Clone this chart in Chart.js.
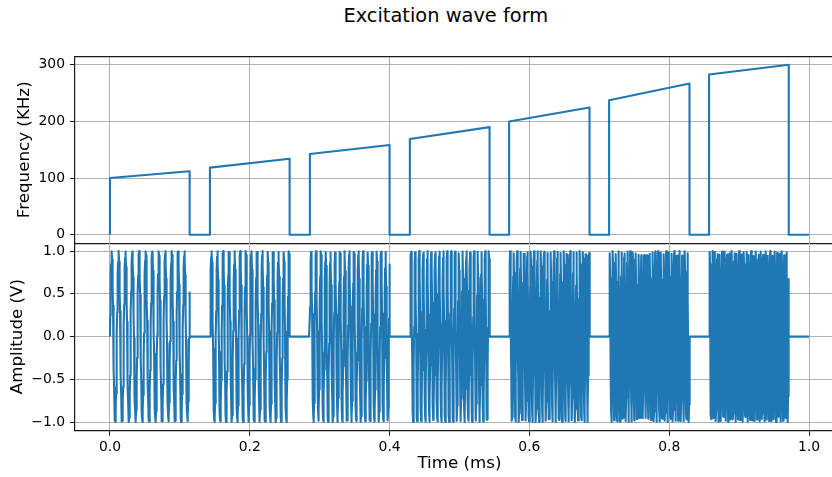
<!DOCTYPE html>
<html>
<head>
<meta charset="utf-8">
<script src="https://cdn.jsdelivr.net/npm/chart.js@4.4.1/dist/chart.umd.min.js"></script>
<style>
  html, body { margin: 0; padding: 0; background: #fff; overflow: hidden; }
  #wrap { position: relative; width: 832px; height: 477px; overflow: hidden; }
  #wrap canvas { position: absolute; left: 0; top: 0; }
  #titre { position: absolute; top: 3.8px; left: 0; width: 891.6px; text-align: center;
           font-family: 'DejaVu Sans', sans-serif; font-size: 19.4px; line-height: 24px; color: #000; }
</style>
</head>
<body>
<div id="wrap">
  <div id="titre">Excitation wave form</div>
  <canvas id="chartFrequence" width="844" height="477"></canvas>
  <canvas id="chartAmplitude" width="844" height="477"></canvas>
</div>
<script>
// Salves de chirp (temps en ms, fréquence en kHz)
const debutsSalve = [0.000, 0.143, 0.286, 0.429, 0.571, 0.714, 0.857];
const finsSalve   = [0.114, 0.257, 0.400, 0.543, 0.686, 0.829, 0.971];
const freqDebut   = [100, 118.5, 142.5, 169, 200, 237.5, 283];
const freqFin     = [112, 134, 158.5, 190, 224.5, 267, 300];
const finSignal   = 1.0;
const pasEchantillon = 0.0004;

const ticksTemps = [0, 0.2, 0.4, 0.6, 0.8, 1.0];
const ticksFreq  = [0, 100, 200, 300];
const ticksAmpl  = [-1, -0.5, 0, 0.5, 1];

const bleu = '#1f77b4';
const couleurGrille = '#b0b0b0';
const couleurAxe = '#1a1a1a';

Chart.defaults.font.family = "'DejaVu Sans', sans-serif";
Chart.defaults.color = '#000';

// Courbe de fréquence : marches construites depuis les salves
const pointsFreq = [];
debutsSalve.forEach((d, i) => {
  pointsFreq.push({ x: d, y: 0 }, { x: d, y: freqDebut[i] },
                  { x: finsSalve[i], y: freqFin[i] }, { x: finsSalve[i], y: 0 });
});
pointsFreq.push({ x: finSignal, y: 0 });

// Signal d'excitation : sinus dont la phase suit la fréquence de chaque salve
const pointsAmpl = [];
const nb = Math.round(finSignal / pasEchantillon);
let phase = 0, salvePrec = -1;
for (let k = 0; k <= nb; k++) {
  const t = k * pasEchantillon;
  const i = debutsSalve.findIndex((d, j) => t >= d && t <= finsSalve[j]);
  if (i < 0) { pointsAmpl.push({ x: t, y: 0 }); salvePrec = -1; continue; }
  if (i !== salvePrec) { phase = 0; salvePrec = i; }
  else {
    const f = freqDebut[i] + (freqFin[i] - freqDebut[i]) * (t - debutsSalve[i]) / (finsSalve[i] - debutsSalve[i]);
    phase += f * pasEchantillon;
  }
  pointsAmpl.push({ x: t, y: Math.sin(2 * Math.PI * phase) });
}

const poserTicks = (valeurs) => (axe) => { axe.ticks = valeurs.map(v => ({ value: v })); };
const bordure = { display: true, color: couleurAxe, width: 1.2 };
const policeTicks = { size: 13.9 };
const policeTitre = { size: 16.7 };
// l'axe du temps déborde à droite : le canvas est plus large que la figure rognée
const tMin = -0.05, tMax = 1.05;

const optionsBase = {
  responsive: false,
  animation: false,
  devicePixelRatio: 1,
  plugins: { legend: { display: false }, tooltip: { enabled: false } },
  elements: { point: { radius: 0 }, line: { tension: 0, borderJoinStyle: 'round' } }
};

new Chart(document.getElementById('chartFrequence'), {
  type: 'line',
  data: {
    datasets: [{ data: pointsFreq, borderColor: bleu, borderWidth: 2.1, fill: false }]
  },
  options: {
    ...optionsBase,
    layout: { padding: { left: 15, top: 56.3, right: 0, bottom: 233.8 } },
    scales: {
      x: {
        type: 'linear', position: 'bottom', min: tMin, max: tMax,
        afterBuildTicks: poserTicks(ticksTemps),
        grid: { color: couleurGrille, lineWidth: 1, drawTicks: false },
        border: bordure,
        ticks: { display: false, includeBounds: false }
      },
      xHaut: {
        type: 'linear', position: 'top', min: tMin, max: tMax,
        afterBuildTicks: poserTicks(ticksTemps),
        grid: { display: false, drawTicks: false },
        border: bordure,
        ticks: { display: false, includeBounds: false }
      },
      y: {
        type: 'linear', min: -15, max: 315,
        afterBuildTicks: poserTicks(ticksFreq),
        afterFit: (axe) => { axe.width = 60; },
        grid: { color: couleurGrille, lineWidth: 1, tickColor: couleurAxe, tickLength: 5 },
        border: bordure,
        ticks: { padding: 5, font: policeTicks, callback: v => String(v) },
        title: { display: true, text: 'Frequency (KHz)', font: policeTitre, padding: 0 }
      }
    }
  }
});

new Chart(document.getElementById('chartAmplitude'), {
  type: 'line',
  data: {
    datasets: [{ data: pointsAmpl, borderColor: bleu, borderWidth: 2.1, fill: false }]
  },
  options: {
    ...optionsBase,
    parsing: false,
    layout: { padding: { left: 7.5, top: 242.6, right: 0, bottom: 0 } },
    scales: {
      x: {
        type: 'linear', position: 'bottom', min: tMin, max: tMax,
        afterBuildTicks: poserTicks(ticksTemps),
        afterFit: (axe) => { axe.height = 46.4; },
        grid: { color: couleurGrille, lineWidth: 1, tickColor: couleurAxe, tickLength: 5 },
        border: bordure,
        ticks: { padding: 3.5, font: policeTicks, maxRotation: 0, includeBounds: false, callback: v => v.toFixed(1) },
        title: { display: true, text: 'Time (ms)', font: policeTitre, padding: { top: 0, bottom: 3 } }
      },
      y: {
        type: 'linear', min: -1.1, max: 1.1,
        afterBuildTicks: poserTicks(ticksAmpl),
        afterFit: (axe) => { axe.width = 67.5; },
        grid: { color: couleurGrille, lineWidth: 1, tickColor: couleurAxe, tickLength: 5 },
        border: bordure,
        ticks: { padding: 5, font: policeTicks, callback: v => v.toFixed(1).replace('-', '\u2212') },
        title: { display: true, text: 'Amplitude (V)', font: policeTitre, padding: 0 }
      }
    }
  }
});
</script>
</body>
</html>
